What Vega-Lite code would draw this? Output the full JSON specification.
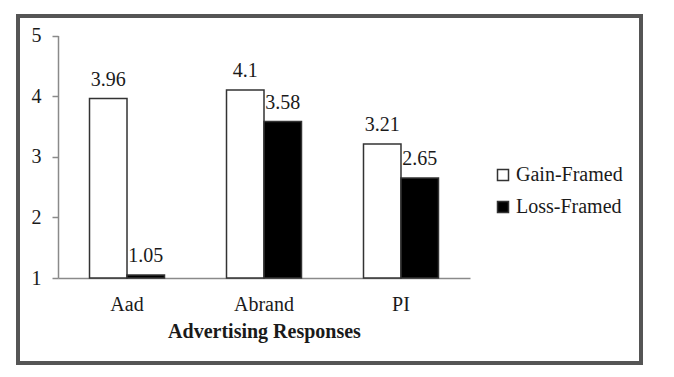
{
  "$schema": "https://vega.github.io/schema/vega-lite/v6.json",
  "autosize": "none",
  "width": 623,
  "height": 347,
  "padding": {"left": 18, "top": 16, "right": 33, "bottom": 14},
  "background": "white",
  "config": {
    "view": {"stroke": "#555555", "strokeWidth": 4},
    "font": "Liberation Serif",
    "axis": {"grid": false, "labelFont": "Liberation Serif", "titleFont": "Liberation Serif", "labelColor": "#1a1a1a", "titleColor": "#1a1a1a", "domainColor": "#8a8a8a", "tickColor": "#8a8a8a", "domainWidth": 1.5, "tickWidth": 1.5}
  },
  "data": {
    "values": [
      {"response": "Aad", "frame": "Gain-Framed", "value": 3.96, "label": "3.96"},
      {"response": "Aad", "frame": "Loss-Framed", "value": 1.05, "label": "1.05"},
      {"response": "Abrand", "frame": "Gain-Framed", "value": 4.1, "label": "4.1"},
      {"response": "Abrand", "frame": "Loss-Framed", "value": 3.58, "label": "3.58"},
      {"response": "PI", "frame": "Gain-Framed", "value": 3.21, "label": "3.21"},
      {"response": "PI", "frame": "Loss-Framed", "value": 2.65, "label": "2.65"}
    ]
  },
  "encoding": {
    "x": {
      "field": "response", "type": "nominal", "sort": ["Aad", "Abrand", "PI"],
      "scale": {"range": [40, 452], "paddingInner": 0.4526, "paddingOuter": 0.23, "align": 0.5},
      "axis": {"title": "Advertising Responses", "titleFontWeight": "bold", "titleFontSize": 20, "labelFontSize": 20, "labelAngle": 0, "ticks": false, "labelPadding": 16, "titlePadding": 7, "offset": -85}
    },
    "xOffset": {"field": "frame", "type": "nominal", "sort": ["Gain-Framed", "Loss-Framed"], "scale": {"paddingInner": 0, "paddingOuter": 0}},
    "y": {
      "field": "value", "type": "quantitative",
      "scale": {"domain": [1, 5], "range": [262, 19.5], "nice": false, "zero": false},
      "axis": {"title": null, "values": [1, 2, 3, 4, 5], "labelFontSize": 20, "tickSize": 6, "labelPadding": 11, "offset": -40}
    }
  },
  "layer": [
    {
      "mark": {"type": "bar", "stroke": "#333", "strokeWidth": 1.5},
      "encoding": {
        "y2": {"datum": 1},
        "fill": {
          "field": "frame", "type": "nominal",
          "scale": {"domain": ["Gain-Framed", "Loss-Framed"], "range": ["#ffffff", "#000000"]},
          "legend": {"title": null, "orient": "none", "legendX": 475, "legendY": 149, "symbolType": "square", "symbolSize": 121, "symbolStrokeColor": "#333", "symbolStrokeWidth": 1.5, "labelFont": "Liberation Serif", "labelFontSize": 20, "labelColor": "#1a1a1a", "rowPadding": 12, "labelOffset": 3, "padding": 0}
        }
      }
    },
    {
      "mark": {"type": "text", "baseline": "alphabetic", "dy": -13, "fontSize": 20, "font": "Liberation Serif", "color": "#1a1a1a"},
      "encoding": {"text": {"field": "label"}}
    }
  ]
}
